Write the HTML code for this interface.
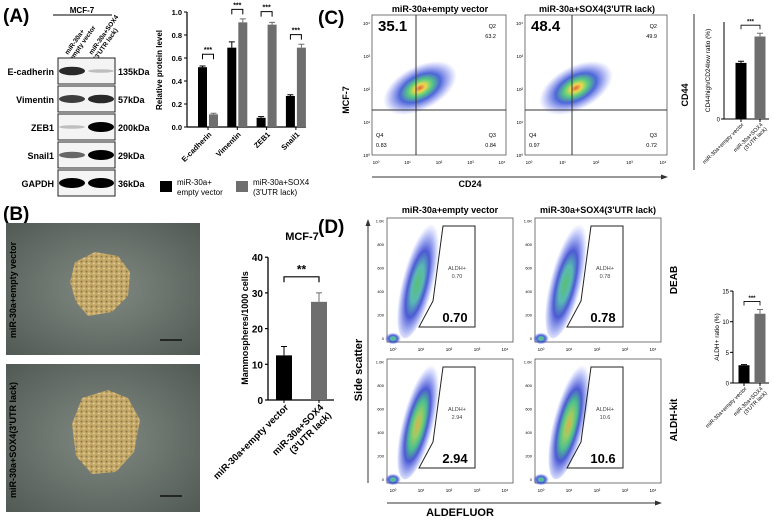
<!DOCTYPE html>
<html><head><meta charset="utf-8"><style>
body{margin:0;background:#fff}
svg{display:block;font-family:"Liberation Sans",Arial,sans-serif}
.b{font-weight:bold}
</style></head><body>
<svg id="fig" width="774" height="522" viewBox="0 0 774 522">
<defs>
<radialGradient id="dens" cx="50%" cy="50%" r="50%">
<stop offset="0" stop-color="#e03a10"/><stop offset="0.15" stop-color="#e8d020"/><stop offset="0.32" stop-color="#30c060"/><stop offset="0.55" stop-color="#2040d0"/><stop offset="0.8" stop-color="#4050e0" stop-opacity="0.45"/><stop offset="1" stop-color="#6070ff" stop-opacity="0"/>
</radialGradient>
<radialGradient id="dens2" cx="50%" cy="55%" r="50%">
<stop offset="0" stop-color="#30b050"/><stop offset="0.3" stop-color="#30a8a0"/><stop offset="0.55" stop-color="#2030c8"/><stop offset="0.8" stop-color="#3048e0" stop-opacity="0.45"/><stop offset="1" stop-color="#6070ff" stop-opacity="0"/>
</radialGradient>
<radialGradient id="dens3" cx="50%" cy="55%" r="50%">
<stop offset="0" stop-color="#d0a020"/><stop offset="0.2" stop-color="#80c040"/><stop offset="0.4" stop-color="#20b070"/><stop offset="0.6" stop-color="#2030c8"/><stop offset="0.82" stop-color="#3048e0" stop-opacity="0.45"/><stop offset="1" stop-color="#6070ff" stop-opacity="0"/>
</radialGradient>
<radialGradient id="micro" cx="50%" cy="50%" r="70%">
<stop offset="0" stop-color="#808a82"/><stop offset="1" stop-color="#525a55"/>
</radialGradient>
<radialGradient id="cell" cx="50%" cy="45%" r="55%">
<stop offset="0" stop-color="#e0c888"/><stop offset="0.7" stop-color="#b89a58"/><stop offset="1" stop-color="#8a7440"/>
</radialGradient>
<pattern id="speck" width="5" height="5" patternUnits="userSpaceOnUse"><rect width="5" height="5" fill="#c4a868"/><circle cx="1.5" cy="1.5" r="1" fill="#5a4a28" opacity="0.5"/><circle cx="4" cy="3.5" r="0.9" fill="#f0e0b0" opacity="0.7"/></pattern>
</defs>

<!-- Panel A -->
<text x="3" y="22" class="b" font-size="19">(A)</text>
<text x="82" y="13" font-size="8" text-anchor="middle" class="b">MCF-7</text>
<line x1="53" y1="15" x2="112" y2="15" stroke="#000" stroke-width="1"/>
<text transform="translate(68,55) rotate(-55)" font-size="6.5" class="b"><tspan x="0" y="0">miR-30a+</tspan><tspan x="-2" y="7">empty vector</tspan></text>
<text transform="translate(92,55) rotate(-55)" font-size="6.5" class="b"><tspan x="0" y="0">miR-30a+SOX4</tspan><tspan x="-2" y="7">(3'UTR lack)</tspan></text>
<g id="blot"></g>

<g id="chartA"></g>
<g>
<rect x="160" y="181" width="12" height="11" fill="#000"/>
<text x="177" y="185" font-size="8"><tspan x="177">miR-30a+</tspan><tspan x="177" dy="10">empty vector</tspan></text>
<rect x="236" y="181" width="12" height="11" fill="#6e6e6e"/>
<text x="253" y="185" font-size="8"><tspan x="253">miR-30a+SOX4</tspan><tspan x="253" dy="10">(3'UTR lack)</tspan></text>
</g>

<!-- Panel C -->
<text x="318" y="24" class="b" font-size="19">(C)</text>
<text x="440" y="12" class="b" font-size="9" text-anchor="middle">miR-30a+empty vector</text>
<text x="597" y="12" class="b" font-size="9" text-anchor="middle">miR-30a+SOX4(3'UTR lack)</text>
<g id="flowC"></g>
<line x1="372" y1="177" x2="664" y2="177" stroke="#333" stroke-width="1"/>
<polygon points="668,177 661,174.5 661,179.5" fill="#333"/>
<text x="470" y="187" class="b" font-size="9" text-anchor="middle">CD24</text>
<text transform="translate(349,100) rotate(-90)" class="b" font-size="9" text-anchor="middle">MCF-7</text>
<line x1="694" y1="14" x2="694" y2="170" stroke="#333" stroke-width="1"/>
<text transform="translate(688,95) rotate(-90)" class="b" font-size="9" text-anchor="middle">CD44</text>
<g id="chartC"></g>

<!-- Panel B -->
<text x="3" y="220" class="b" font-size="19">(B)</text>
<g>
<rect x="6" y="223" width="194" height="132" fill="url(#micro)"/>
<path d="M75,262 L95,252 L118,256 L130,272 L128,296 L112,312 L88,316 L76,302 L70,282 Z" fill="url(#speck)"/>
<line x1="160" y1="340" x2="182" y2="340" stroke="#111" stroke-width="1.5"/>
</g>
<g>
<rect x="6" y="364" width="194" height="148" fill="url(#micro)"/>
<path d="M82,398 L108,390 L128,398 L140,420 L134,452 L116,472 L92,474 L76,456 L72,424 Z" fill="url(#speck)"/>
<line x1="160" y1="496" x2="182" y2="496" stroke="#111" stroke-width="1.5"/>
</g>
<text transform="translate(16,290) rotate(-90)" class="b" font-size="9" text-anchor="middle">miR-30a+empty vector</text>
<text transform="translate(16,440) rotate(-90)" class="b" font-size="9" text-anchor="middle">miR-30a+SOX4(3'UTR lack)</text>
<text x="302" y="240" class="b" font-size="11" text-anchor="middle">MCF-7</text>
<text transform="translate(248,328) rotate(-90)" class="b" font-size="9" text-anchor="middle">Mammospheres/1000 cells</text>
<g id="chartB"></g>

<!-- Panel D -->
<text x="318" y="233" class="b" font-size="19">(D)</text>
<text x="450" y="213" class="b" font-size="9" text-anchor="middle">miR-30a+empty vector</text>
<text x="598" y="213" class="b" font-size="9" text-anchor="middle">miR-30a+SOX4(3'UTR lack)</text>
<g id="flowD"></g>
<line x1="368" y1="483" x2="368" y2="224" stroke="#333" stroke-width="1"/>
<polygon points="368,219 365.5,226 370.5,226" fill="#333"/>
<text transform="translate(362,370) rotate(-90)" class="b" font-size="11" text-anchor="middle">Side scatter</text>
<line x1="387" y1="503" x2="657" y2="503" stroke="#333" stroke-width="1"/>
<polygon points="662,503 655,500.5 655,505.5" fill="#333"/>
<text x="460" y="516" class="b" font-size="11" text-anchor="middle">ALDEFLUOR</text>
<text transform="translate(677,280) rotate(-90)" class="b" font-size="10" text-anchor="middle">DEAB</text>
<text transform="translate(677,420) rotate(-90)" class="b" font-size="10" text-anchor="middle">ALDH-kit</text>
<g id="chartD"></g>
</svg>
<script>
const NS="http://www.w3.org/2000/svg";
function mk(parent,tag,attrs,txt){const e=document.createElementNS(NS,tag);for(const k in attrs)e.setAttribute(k,attrs[k]);if(txt!==undefined)e.textContent=txt;parent.appendChild(e);return e;}

// ---------- data ----------
const blotProteins=["E-cadherin","Vimentin","ZEB1","Snail1","GAPDH"];
const blotSizes=["135kDa","57kDa","200kDa","29kDa","36kDa"];
const blotLane1=[0.8,0.7,0.08,0.5,1.0];
const blotLane2=[0.08,0.8,1.0,1.0,1.0];

const aCategories=["E-cadherin","Vimentin","ZEB1","Snail1"];
const aEmpty=[0.52,0.69,0.08,0.27];
const aSox4=[0.11,0.91,0.89,0.69];
const aEmptyErr=[0.01,0.05,0.01,0.01];
const aSox4Err=[0.01,0.03,0.02,0.03];
const aTicks=[0,0.2,0.4,0.6,0.8,1.0];

const bCategories=["miR-30a+empty vector","miR-30a+SOX4 (3'UTR lack)"];
const bValues=[12.5,27.5];
const bErr=[2.5,2.5];
const bTicks=[0,10,20,30,40];

const cCategories=["miR-30a+empty vector","miR-30a+SOX4 (3'UTR lack)"];
const cValues=[34,50];
const cErr=[1,2];

const dCategories=["miR-30a+empty vector","miR-30a+SOX4 (3'UTR lack)"];
const dValues=[2.9,11.3];
const dErr=[0.1,0.7];
const dTicks=[0,5,10,15];

const cBigNums=["35.1","48.4"];
const cQ2=["63.2","49.9"];
const cQ3=["0.84","0.72"];
const cQ4=["0.83","0.97"];
const dGate=[["0.70","0.78"],["2.94","10.6"]];

// ---------- western blot ----------
const blot=document.getElementById("blot");
blotProteins.forEach((p,i)=>{
  const y=58+i*28;
  const r=mk(blot,"rect",{x:58,y:y,width:57,height:26,fill:"#f4f4f4",stroke:"#222","stroke-width":1});
  
  
  [blotLane1[i],blotLane2[i]].forEach((v,j)=>{
    const cx=72+j*29;
    const band=mk(blot,"ellipse",{cx:cx,cy:y+13,rx:13,ry:1.5+3.5*v,fill:"#000",opacity:0.15+0.85*v});
    
    
  });
  const l=mk(blot,"text",{x:54,y:y+17,"font-size":9,"font-weight":"bold","text-anchor":"end"},p);
  
  
  const s=mk(blot,"text",{x:118,y:y+17,"font-size":9,"font-weight":"bold"},blotSizes[i]);
  
  
});

function bracket(g,x1,x2,y,label){
  mk(g,"path",{d:`M${x1},${y+5} V${y} H${x2} V${y+5}`,fill:"none",stroke:"#000","stroke-width":1});
  const t=mk(g,"text",{x:(x1+x2)/2,y:y-2,"font-size":7,"font-weight":"bold","text-anchor":"middle"},label);
  
  
}
function bar(g,x,w,y0,y1,fill,errY,name){
  const r=mk(g,"rect",{x:x,y:y1,width:w,height:y0-y1,fill:fill});
  
  
  mk(g,"path",{d:`M${x+w/2},${y1} V${errY} M${x+w/2-3},${errY} H${x+w/2+3}`,stroke:fill,"stroke-width":1,fill:"none"});
}

// ---------- chart A ----------
(function(){
  const g=document.getElementById("chartA");
  const y0=127,yTop=12,ax=187;
  const Y=v=>y0-(v/1.0)*(y0-yTop);
  mk(g,"line",{x1:ax,y1:Y(1.0),x2:ax,y2:y0,stroke:"#000","stroke-width":1.2});
  mk(g,"line",{x1:ax,y1:y0,x2:306,y2:y0,stroke:"#000","stroke-width":1.2});
  aTicks.forEach(t=>{
    mk(g,"line",{x1:ax-3,y1:Y(t),x2:ax,y2:Y(t),stroke:"#000"});
    const tl=mk(g,"text",{x:ax-5,y:Y(t)+3,"font-size":7.5,"font-weight":"bold","text-anchor":"end"},t.toFixed(1));
    
    
  });
  const yt=mk(g,"text",{transform:`translate(162,70) rotate(-90)`,"font-size":8,"font-weight":"bold","text-anchor":"middle"},"Relative protein level");
  
  
  const X=i=>208+i*29.3;
  aCategories.forEach((c,i)=>{
    const cx=X(i);
    bar(g,cx-10,9,y0,Y(aEmpty[i]),"#000",Y(aEmpty[i]+aEmptyErr[i]),"bar-empty-"+c);
    bar(g,cx+1,9,y0,Y(aSox4[i]),"#6e6e6e",Y(aSox4[i]+aSox4Err[i]),"bar-sox4-"+c);
    mk(g,"line",{x1:cx,y1:y0,x2:cx,y2:y0+3,stroke:"#000"});
    const t=mk(g,"text",{transform:`translate(${cx+4},${y0+8}) rotate(-45)`,"font-size":7.5,"font-weight":"bold","text-anchor":"end"},c);
    
    
    bracket(g,cx-5.5,cx+5.5,Y(Math.max(aEmpty[i],aSox4[i]))-13,"***");
  });
})();

// ---------- chart B ----------
(function(){
  const g=document.getElementById("chartB");
  const y0=400,ax=268;
  const Y=v=>y0-v*3.57;
  mk(g,"line",{x1:ax,y1:Y(40),x2:ax,y2:y0,stroke:"#000","stroke-width":1.3});
  mk(g,"line",{x1:ax,y1:y0,x2:334,y2:y0,stroke:"#000","stroke-width":1.3});
  bTicks.forEach(t=>{
    mk(g,"line",{x1:ax-3,y1:Y(t),x2:ax,y2:Y(t),stroke:"#000","stroke-width":1.2});
    const tl=mk(g,"text",{x:ax-5,y:Y(t)+4,"font-size":10,"font-weight":"bold","text-anchor":"end"},t);
    
    
  });
  const cols=["#000","#6e6e6e"];
  bCategories.forEach((c,i)=>{
    const cx=284+i*35;
    bar(g,cx-8,16,y0,Y(bValues[i]),cols[i],Y(bValues[i]+bErr[i]),"bar-"+(i?"sox4":"empty"));
    mk(g,"line",{x1:cx,y1:y0,x2:cx,y2:y0+3,stroke:"#000"});
    const parts=c.split(" (");
    const t=mk(g,"text",{transform:`translate(${cx+5},${y0+8}) rotate(-45)`,"font-size":9.5,"font-weight":"bold","text-anchor":"end"});
    
    
    mk(t,"tspan",{x:0,y:0},parts[0]);
    if(parts[1]) mk(t,"tspan",{x:0,y:11},"("+parts[1]);
  });
  mk(g,"path",{d:`M284,${Y(33)} V${Y(34.5)} H319 V${Y(33)}`,fill:"none",stroke:"#000","stroke-width":1.2});
  const s=mk(g,"text",{x:301.5,y:Y(35.5),"font-size":12,"font-weight":"bold","text-anchor":"middle"},"**");
  
  
})();

// ---------- small charts C & D ----------
function smallChart(id,cats,vals,errs,y0,ax,Y,ticks,title,xs,top){
  const g=document.getElementById(id);
  mk(g,"line",{x1:ax,y1:top,x2:ax,y2:y0,stroke:"#000"});
  mk(g,"line",{x1:ax,y1:y0,x2:xs[1]+9,y2:y0,stroke:"#000"});
  ticks.forEach(t=>{
    mk(g,"line",{x1:ax-3,y1:Y(t),x2:ax,y2:Y(t),stroke:"#000"});
    const tl=mk(g,"text",{x:ax-4,y:Y(t)+2.5,"font-size":6,"text-anchor":"end"},t);
    
    
  });
  const cols=["#000","#6e6e6e"];
  cats.forEach((c,i)=>{
    const cx=xs[i];
    bar(g,cx-5.5,11,y0,Y(vals[i]),cols[i],Y(vals[i]+errs[i]),"bar-"+(i?"sox4":"empty"));
    mk(g,"line",{x1:cx,y1:y0,x2:cx,y2:y0+3,stroke:"#000"});
    const parts=c.split(" (");
    const t=mk(g,"text",{transform:`translate(${cx+3},${y0+6}) rotate(-45)`,"font-size":5.5,"text-anchor":"end"});
    
    
    mk(t,"tspan",{x:0,y:0},parts[0]);
    if(parts[1]) mk(t,"tspan",{x:0,y:6},"("+parts[1]);
  });
  const mx=Math.max(vals[0]+errs[0],vals[1]+errs[1]);
  const by=Y(mx)-8;
  mk(g,"path",{d:`M${xs[0]},${by+4} V${by} H${xs[1]} V${by+4}`,fill:"none",stroke:"#000","stroke-width":0.8});
  const s=mk(g,"text",{x:(xs[0]+xs[1])/2,y:by-1.5,"font-size":6,"font-weight":"bold","text-anchor":"middle"},"***");
  
  
  const yt=mk(g,"text",{transform:`translate(${ax-14},${(top+y0)/2}) rotate(-90)`,"font-size":6.5,"text-anchor":"middle"},title);
  
  
}
smallChart("chartC",cCategories,cValues,cErr,119,724,v=>119-v*1.65,[0],"CD44high/CD24low ratio (%)",[741,760],22);
smallChart("chartD",dCategories,dValues,dErr,383,733,v=>383-v*6.13,dTicks,"ALDH+ ratio (%)",[744,760],291);

// ---------- flow C ----------
(function(){
  const g=document.getElementById("flowC");
  const boxes=[[372,15,134,140,416],[525,15,142,140,572]];
  boxes.forEach((b,i)=>{
    const [x,y,w,h,vx]=b;
    mk(g,"rect",{x:x,y:y,width:w,height:h,fill:"#fff",stroke:"#555","stroke-width":0.8});
    const cl=mk(g,"ellipse",{cx:vx+4,cy:88,rx:40,ry:22,fill:"url(#dens)",opacity:0.8,transform:`rotate(-28 ${vx+4} 88)`});
    
    
    mk(g,"line",{x1:vx,y1:y,x2:vx,y2:y+h,stroke:"#333","stroke-width":1});
    mk(g,"line",{x1:x,y1:110,x2:x+w,y2:110,stroke:"#333","stroke-width":1});
    const n=mk(g,"text",{x:x+6,y:y+16,"font-size":15,"font-weight":"bold"},cBigNums[i]);
    
    
    mk(g,"text",{x:x+w-10,y:y+13,"font-size":5.5,"text-anchor":"end"},"Q2");
    mk(g,"text",{x:x+w-10,y:y+23,"font-size":5.5,"text-anchor":"end"},cQ2[i]);
    mk(g,"text",{x:x+w-10,y:y+122,"font-size":5.5,"text-anchor":"end"},"Q3");
    mk(g,"text",{x:x+w-10,y:y+132,"font-size":5.5,"text-anchor":"end"},cQ3[i]);
    mk(g,"text",{x:x+4,y:y+122,"font-size":5.5},"Q4");
    mk(g,"text",{x:x+4,y:y+132,"font-size":5.5},cQ4[i]);
    for(let k=0;k<5;k++){
      mk(g,"text",{x:x-2,y:y+h-k*33+2,"font-size":4.5,"text-anchor":"end"},"10"+["⁰","¹","²","³","⁴"][k]);
      mk(g,"text",{x:x+4+k*(w-8)/4,y:y+h+9,"font-size":4.5,"text-anchor":"middle"},"10"+["⁰","¹","²","³","⁴"][k]);
    }
  });
})();

// ---------- flow D ----------
(function(){
  const g=document.getElementById("flowD");
  const xs=[387,535],ys=[218,359];
  ys.forEach((y,r)=>xs.forEach((x,c)=>{
    const w=126,h=124;
    mk(g,"rect",{x:x,y:y,width:w,height:h,fill:"#fff",stroke:"#555","stroke-width":0.8});
    const cx=x+32+(r&&c?3:0), cy=y+60;
    const cl=mk(g,"ellipse",{cx:cx,cy:cy,rx:16,ry:62,fill:(r?"url(#dens3)":"url(#dens2)"),opacity:0.8,transform:`rotate(14 ${cx} ${cy})`});
    
    
    mk(g,"ellipse",{cx:x+6,cy:y+h-4,rx:8,ry:6,fill:"url(#dens2)",opacity:0.8});
    mk(g,"polygon",{points:`${x+56},${y+8} ${x+88},${y+8} ${x+88},${y+109} ${x+32},${y+109} ${x+46},${y+83}`,fill:"none",stroke:"#222","stroke-width":1});
    mk(g,"text",{x:x+70,y:y+52,"font-size":5.5,"text-anchor":"middle","fill":"#444"},"ALDH+");
    mk(g,"text",{x:x+70,y:y+60,"font-size":5.5,"text-anchor":"middle","fill":"#444"},dGate[r][c]);
    const n=mk(g,"text",{x:x+68,y:y+104,"font-size":13,"font-weight":"bold","text-anchor":"middle"},dGate[r][c]);
    
    
    ["0","200","400","600","800","1.0K"].forEach((t,k)=>mk(g,"text",{x:x-3,y:y+h-2-k*23.5,"font-size":4,"text-anchor":"end"},t));
    for(let k=0;k<5;k++) mk(g,"text",{x:x+6+k*28,y:y+h+9,"font-size":4.5,"text-anchor":"middle"},"10"+["⁰","¹","²","³","⁴"][k]);
  }));
})();
</script>
</body></html>
